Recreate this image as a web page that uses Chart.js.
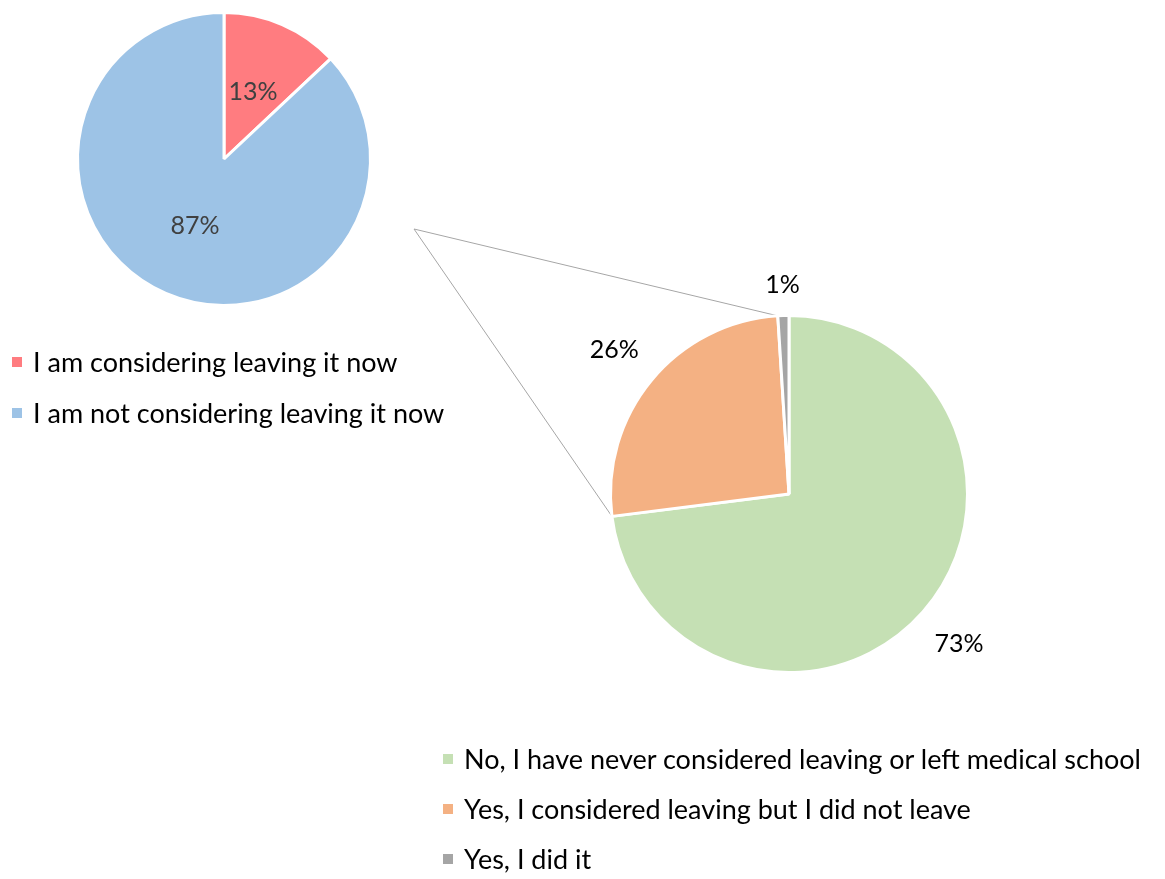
<!DOCTYPE html>
<html>
<head>
<meta charset="utf-8">
<script src="https://cdn.jsdelivr.net/npm/chart.js@4.4.1/dist/chart.umd.min.js"></script>
<style>
  html, body { margin: 0; padding: 0; background: #fff; }
  #wrap { position: relative; width: 1165px; height: 879px; overflow: hidden; font-family: Lato, "Open Sans", sans-serif; }
  canvas.full { position: absolute; left: 0; top: 0; }
  .leg { position: absolute; display: flex; align-items: center; font-size: 27px; line-height: 30px; height: 30px; color: #000; white-space: nowrap; }
  .leg i { display: inline-block; width: 10px; height: 10px; margin-right: 11px; }
</style>
</head>
<body>
<div id="wrap">
  <canvas id="c1" class="full" width="1165" height="879"></canvas>
  <canvas id="c2" class="full" width="1165" height="879"></canvas>
  <div id="legend1"></div>
  <div id="legend2"></div>
</div>
<script>
// ---- data ----
const mainLabels = ["I am considering leaving it now", "I am not considering leaving it now"];
const mainValues = [13, 87];
const mainColors = ["#FF7C80", "#9DC3E6"];

const subLabels = ["No, I have never considered leaving or left medical school", "Yes, I considered leaving but I did not leave", "Yes, I did it"];
const subValues = [73, 26, 1];
const subColors = ["#C5E0B4", "#F4B183", "#A5A5A5"];

// ---- label plugin ----
const pctLabels = {
  id: 'pctLabels',
  afterDatasetsDraw(chart, args, opts) {
    const ctx = chart.ctx;
    const meta = chart.getDatasetMeta(0);
    const data = chart.data.datasets[0].data;
    const total = data.reduce((a, b) => a + b, 0);
    ctx.save();
    ctx.font = opts.font;
    ctx.fillStyle = opts.color;
    ctx.textAlign = 'center';
    ctx.textBaseline = 'middle';
    meta.data.forEach((arc, i) => {
      const p = arc.getProps(['x', 'y', 'startAngle', 'endAngle', 'outerRadius'], true);
      const mid = (p.startAngle + p.endAngle) / 2;
      const r = p.outerRadius * opts.radii[i];
      const x = p.x + Math.cos(mid) * r;
      const y = p.y + Math.sin(mid) * r;
      ctx.fillText(Math.round(data[i] / total * 100) + '%', x, y);
    });
    ctx.restore();
  }
};

// ---- connector plugin (drawn on second chart) ----
const connector = {
  id: 'connector',
  beforeDatasetsDraw(chart, args, opts) {
    const meta = chart.getDatasetMeta(0);
    const arc = meta.data[opts.sliceIndex];
    const p = arc.getProps(['x', 'y', 'startAngle', 'endAngle', 'outerRadius'], true);
    const ctx = chart.ctx;
    const a1 = p.startAngle, a2 = p.endAngle;
    const e1 = [p.x + Math.cos(a1) * p.outerRadius, p.y + Math.sin(a1) * p.outerRadius];
    const e2 = [p.x + Math.cos(a2) * p.outerRadius, p.y + Math.sin(a2) * p.outerRadius];
    ctx.save();
    ctx.strokeStyle = opts.color;
    ctx.lineWidth = 1;
    ctx.beginPath();
    ctx.moveTo(e1[0], e1[1]);
    ctx.lineTo(opts.origin[0], opts.origin[1]);
    ctx.lineTo(e2[0], e2[1]);
    ctx.stroke();
    ctx.restore();
  }
};

Chart.defaults.font.family = 'Lato, "Open Sans", sans-serif';

new Chart(document.getElementById('c1'), {
  type: 'pie',
  data: { labels: mainLabels, datasets: [{ data: mainValues, backgroundColor: mainColors, borderColor: '#ffffff', borderWidth: 3 }] },
  options: {
    responsive: false, animation: false,
    layout: { padding: { left: 76, right: 793, top: 11, bottom: 572 } },
    plugins: {
      legend: { display: false }, tooltip: { enabled: false },
      pctLabels: { font: '25px Lato, "Open Sans", sans-serif', color: '#404040', radii: [0.5, 0.5] }
    }
  },
  plugins: [pctLabels]
});

new Chart(document.getElementById('c2'), {
  type: 'pie',
  data: { labels: subLabels, datasets: [{ data: subValues, backgroundColor: subColors, borderColor: '#ffffff', borderWidth: 3 }] },
  options: {
    responsive: false, animation: false,
    layout: { padding: { left: 609, right: 196, top: 314, bottom: 205 } },
    plugins: {
      legend: { display: false }, tooltip: { enabled: false },
      pctLabels: { font: '25px Lato, "Open Sans", sans-serif', color: '#000000', radii: [1.27, 1.27, 1.17] },
      connector: { sliceIndex: 1, origin: [414, 229], color: '#A6A6A6' }
    }
  },
  plugins: [pctLabels, connector]
});

// ---- HTML legends ----
function buildLegend(id, labels, colors, left, tops) {
  const el = document.getElementById(id);
  labels.forEach((t, i) => {
    const d = document.createElement('div');
    d.className = 'leg';
    d.style.left = left + 'px';
    d.style.top = tops[i] + 'px';
    const sw = document.createElement('i');
    sw.style.background = colors[i];
    d.appendChild(sw);
    d.appendChild(document.createTextNode(t));
    el.appendChild(d);
  });
}
buildLegend('legend1', mainLabels, mainColors, 12, [347, 398]);
buildLegend('legend2', subLabels, subColors, 443, [744, 794, 844]);
</script>
</body>
</html>
